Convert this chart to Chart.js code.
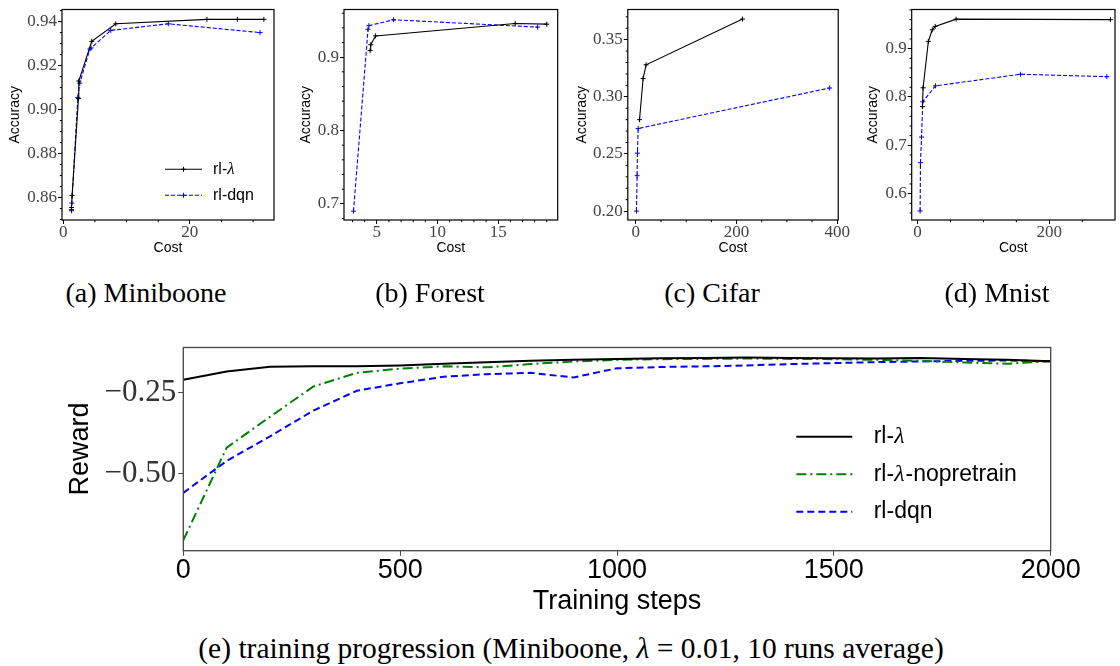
<!DOCTYPE html>
<html>
<head>
<meta charset="utf-8">
<script src="https://cdn.jsdelivr.net/npm/chart.js@4.4.0/dist/chart.umd.min.js"></script>
<style>
body { margin: 0; background: #fff; width: 1120px; height: 666px; position: relative; overflow: hidden; }
canvas { position: absolute; }
.cap { position: absolute; font-family: "Liberation Serif", serif; font-size: 28px; line-height: 28px;
       color: #000; white-space: nowrap; transform: translateX(-50%); }
</style>
</head>
<body>
<canvas id="cMiniboone" width="290" height="262" style="left:0px;top:0px"></canvas>
<canvas id="cForest" width="290" height="262" style="left:280px;top:0px"></canvas>
<canvas id="cCifar" width="290" height="262" style="left:560px;top:0px"></canvas>
<canvas id="cMnist" width="280" height="262" style="left:840px;top:0px"></canvas>
<canvas id="cTraining" width="1120" height="290" style="left:0px;top:330px"></canvas>

<div class="cap" style="left:146px;top:279px">(a) Miniboone</div>
<div class="cap" style="left:430px;top:279px">(b) Forest</div>
<div class="cap" style="left:712px;top:279px">(c) Cifar</div>
<div class="cap" style="left:997px;top:279px">(d) Mnist</div>
<div class="cap" style="left:571px;top:634px;font-size:29.5px">(e) training progression (Miniboone, <i>λ</i> = 0.01, 10 runs average)</div>

<script>
// ---- (a) Miniboone ----
const minibooneCostRl  = [1.3, 1.3, 1.4, 2.4, 2.45, 4.5, 8.3, 22.7, 27.5, 31.7];
const minibooneAccRl   = [0.8545, 0.8555, 0.861, 0.905, 0.913, 0.931, 0.939, 0.941, 0.941, 0.941];
const minibooneCostDqn = [1.3, 1.35, 2.3, 2.6, 4.2, 4.4, 7.5, 16.6, 31.1];
const minibooneAccDqn  = [0.854, 0.8575, 0.9055, 0.912, 0.9275, 0.928, 0.936, 0.939, 0.935];
const minibooneXTicks  = [0, 20];
const minibooneYTicks  = [0.86, 0.88, 0.90, 0.92, 0.94];

// ---- (b) Forest ----
const forestCostRl  = [4.45, 4.5, 4.9, 16.4, 19.0];
const forestAccRl   = [0.909, 0.917, 0.929, 0.946, 0.945];
const forestCostDqn = [3.08, 4.28, 4.35, 6.38, 18.25];
const forestAccDqn  = [0.69, 0.938, 0.943, 0.951, 0.941];
const forestXTicks  = [5, 10, 15];
const forestYTicks  = [0.7, 0.8, 0.9];

// ---- (c) Cifar ----
const cifarCostRl  = [7.3, 14.4, 20.3, 212];
const cifarAccRl   = [0.280, 0.316, 0.328, 0.368];
const cifarCostDqn = [1.2, 2.5, 3.2, 4.6, 385];
const cifarAccDqn  = [0.200, 0.231, 0.2507, 0.2723, 0.3077];
const cifarXTicks  = [0, 200, 400];
const cifarYTicks  = [0.20, 0.25, 0.30, 0.35];

// ---- (d) Mnist ----
const mnistCostRl  = [7.4, 8.4, 16.4, 22.3, 26.8, 58.5, 292.7];
const mnistAccRl   = [0.780, 0.819, 0.915, 0.939, 0.946, 0.961, 0.960];
const mnistCostDqn = [3.9, 4.4, 6.0, 7.9, 27.2, 156.3, 287.3];
const mnistAccDqn  = [0.564, 0.664, 0.717, 0.790, 0.823, 0.847, 0.842];
const mnistXTicks  = [0, 200];
const mnistYTicks  = [0.6, 0.7, 0.8, 0.9];

// ---- (e) training progression ----
const trainingSteps = [0, 100, 200, 300, 400, 500, 600, 700, 800, 900, 1000,
                       1100, 1200, 1300, 1400, 1500, 1600, 1700, 1800, 1900, 2000];
const rewardRl = [-0.211, -0.186, -0.171, -0.170, -0.170, -0.167, -0.162, -0.157, -0.153, -0.150, -0.147,
                  -0.145, -0.144, -0.143, -0.144, -0.145, -0.146, -0.144, -0.147, -0.150, -0.154];
const rewardNopretrain = [-0.705, -0.420, -0.325, -0.232, -0.190, -0.177, -0.170, -0.173, -0.163, -0.155, -0.150,
                          -0.148, -0.147, -0.146, -0.147, -0.148, -0.150, -0.153, -0.158, -0.162, -0.154];
const rewardDqn = [-0.559, -0.461, -0.385, -0.306, -0.245, -0.222, -0.202, -0.194, -0.190, -0.204, -0.176,
                   -0.172, -0.170, -0.167, -0.163, -0.160, -0.157, -0.155, -0.153, -0.152, -0.154];
const stepTicks = [0, 500, 1000, 1500, 2000];
const rewardTicks = [-0.50, -0.25];

const SANS = '"Liberation Sans", "DejaVu Sans", sans-serif';
const SERIF = '"Liberation Serif", "DejaVu Serif", serif';

function toPoints(xs, ys) {
    return xs.map((x, i) => ({ x: x, y: ys[i] }));
}

// draws "rl-λ..." with the lambda in italic serif
function drawLabel(ctx, text, x, y, size) {
    const parts = text.split('λ');
    let cx = x;
    parts.forEach((p, i) => {
        ctx.font = size + 'px ' + SANS;
        ctx.fillText(p, cx, y);
        cx += ctx.measureText(p).width;
        if (i < parts.length - 1) {
            ctx.font = 'italic ' + (size + 1) + 'px ' + SERIF;
            ctx.fillText('λ', cx, y);
            cx += ctx.measureText('λ').width + 1;
        }
    });
}

function drawMinor(ctx, scale, step, majors, horizontal, len, area) {
    if (!step) return;
    const k0 = Math.ceil(scale.min / step - 1e-9);
    const k1 = Math.floor(scale.max / step + 1e-9);
    ctx.beginPath();
    for (let k = k0; k <= k1; k++) {
        const v = k * step;
        if (majors.some(m => Math.abs(m - v) < step / 10)) continue;
        const p = scale.getPixelForValue(v);
        if (horizontal) {
            ctx.moveTo(p, area.bottom);
            ctx.lineTo(p, area.bottom + len);
        } else {
            ctx.moveTo(area.left - len, p);
            ctx.lineTo(area.left, p);
        }
    }
    ctx.stroke();
}

// frame (spines), minor ticks and an in-plot legend
const framePlugin = {
    id: 'frame',
    afterDraw(chart, args, opts) {
        const ctx = chart.ctx;
        const a = chart.chartArea;
        ctx.save();
        ctx.strokeStyle = opts.color;
        ctx.lineWidth = 1;
        drawMinor(ctx, chart.scales.x, opts.minorX, opts.majorX, true, 2.2, a);
        drawMinor(ctx, chart.scales.y, opts.minorY, opts.majorY, false, 2.2, a);
        ctx.lineWidth = opts.width;
        ctx.strokeRect(a.left, a.top, a.right - a.left, a.bottom - a.top);

        const lg = opts.legend;
        if (lg) {
            chart.data.datasets.forEach((ds, i) => {
                const y = lg.y + i * lg.rowH;
                ctx.strokeStyle = ds.borderColor;
                ctx.lineWidth = ds.borderWidth;
                ctx.setLineDash(ds.borderDash || []);
                ctx.beginPath();
                ctx.moveTo(lg.x, y);
                ctx.lineTo(lg.x + lg.lineLen, y);
                ctx.stroke();
                ctx.setLineDash([]);
                if (ds.pointRadius > 0) {
                    const mx = lg.x + lg.lineLen / 2, r = ds.pointRadius;
                    ctx.lineWidth = 1;
                    ctx.beginPath();
                    ctx.moveTo(mx - r, y); ctx.lineTo(mx + r, y);
                    ctx.moveTo(mx, y - r); ctx.lineTo(mx, y + r);
                    ctx.stroke();
                }
                ctx.fillStyle = '#000';
                ctx.textBaseline = 'middle';
                ctx.textAlign = 'left';
                drawLabel(ctx, ds.label, lg.x + lg.lineLen + lg.gap, y, lg.size);
            });
        }
        ctx.restore();
    }
};

function makeCostChart(id, c) {
    const ctx = document.getElementById(id).getContext('2d');
    return new Chart(ctx, {
        type: 'scatter',
        data: {
            datasets: [{
                label: 'rl-λ',
                data: toPoints(c.costRl, c.accRl),
                showLine: true,
                borderColor: '#000000',
                backgroundColor: '#000000',
                borderWidth: 1.1,
                pointStyle: 'cross',
                pointRadius: 2.5,
                pointBorderWidth: 1,
                pointBorderColor: '#000000'
            }, {
                label: 'rl-dqn',
                data: toPoints(c.costDqn, c.accDqn),
                showLine: true,
                borderColor: '#0000ff',
                backgroundColor: '#0000ff',
                borderWidth: 1.1,
                borderDash: [4, 2],
                pointStyle: 'cross',
                pointRadius: 2.5,
                pointBorderWidth: 1,
                pointBorderColor: '#0000ff'
            }]
        },
        options: {
            responsive: false,
            animation: false,
            events: [],
            layout: { padding: { left: 0, top: c.top, right: c.right, bottom: 0 } },
            plugins: {
                legend: { display: false },
                tooltip: { enabled: false },
                frame: {
                    color: '#000', width: 1.2,
                    minorX: c.minorX, minorY: c.minorY,
                    majorX: c.xTicks, majorY: c.yTicks,
                    legend: c.legend
                }
            },
            scales: {
                x: {
                    type: 'linear',
                    min: c.xMin, max: c.xMax,
                    afterBuildTicks: s => { s.ticks = c.xTicks.map(v => ({ value: v })); },
                    afterFit: s => { s.height = 42; },
                    border: { display: false },
                    grid: { drawOnChartArea: false, drawTicks: true, tickLength: 4, tickColor: '#000' },
                    ticks: {
                        autoSkip: false, maxRotation: 0, padding: 0, color: '#444',
                        font: { family: SERIF, size: 17, lineHeight: 1 },
                        callback: v => String(v)
                    },
                    title: {
                        display: true, text: 'Cost', color: '#000',
                        font: { family: SANS, size: 14 },
                        padding: { top: 0, bottom: 5 }
                    }
                },
                y: {
                    type: 'linear',
                    min: c.yMin, max: c.yMax,
                    afterBuildTicks: s => { s.ticks = c.yTicks.map(v => ({ value: v })); },
                    afterFit: s => { s.width = c.yWidth; },
                    border: { display: false },
                    grid: { drawOnChartArea: false, drawTicks: true, tickLength: 4, tickColor: '#000' },
                    ticks: {
                        autoSkip: false, padding: 1, color: '#444',
                        font: { family: SERIF, size: 17, lineHeight: 1 },
                        callback: v => v.toFixed(c.dec)
                    },
                    title: {
                        display: true, text: 'Accuracy', color: '#000',
                        font: { family: SANS, size: 14 },
                        padding: { top: c.titlePad, bottom: 0 }
                    }
                }
            }
        },
        plugins: [framePlugin]
    });
}

makeCostChart('cMiniboone', {
    costRl: minibooneCostRl, accRl: minibooneAccRl,
    costDqn: minibooneCostDqn, accDqn: minibooneAccDqn,
    xTicks: minibooneXTicks, yTicks: minibooneYTicks,
    xMin: -0.2, xMax: 33.3, yMin: 0.8498, yMax: 0.9455,
    minorX: 5, minorY: 0.005, dec: 2,
    top: 7, right: 16, yWidth: 62, titlePad: 6.6,
    legend: { x: 165, y: 169.3, rowH: 26, lineLen: 37, gap: 11, size: 16 }
});

makeCostChart('cForest', {
    costRl: forestCostRl, accRl: forestAccRl,
    costDqn: forestCostDqn, accDqn: forestAccDqn,
    xTicks: forestXTicks, yTicks: forestYTicks,
    xMin: 2.3, xMax: 19.9, yMin: 0.678, yMax: 0.965,
    minorX: 1, minorY: 0.02, dec: 1,
    top: 6.7, right: 12.3, yWidth: 64, titlePad: 17.5
});

makeCostChart('cCifar', {
    costRl: cifarCostRl, accRl: cifarAccRl,
    costDqn: cifarCostDqn, accDqn: cifarAccDqn,
    xTicks: cifarXTicks, yTicks: cifarYTicks,
    xMin: -16, xMax: 402, yMin: 0.1922, yMax: 0.3764,
    minorX: 50, minorY: 0.01, dec: 2,
    top: 6.7, right: 10, yWidth: 67.8, titlePad: 13.5
});

makeCostChart('cMnist', {
    costRl: mnistCostRl, accRl: mnistAccRl,
    costDqn: mnistCostDqn, accDqn: mnistAccDqn,
    xTicks: mnistXTicks, yTicks: mnistYTicks,
    xMin: -8.9, xMax: 299.7, yMin: 0.5454, yMax: 0.981,
    minorX: 50, minorY: 0.02, dec: 1,
    top: 7.3, right: 1, yWidth: 71.7, titlePad: 25.1
});

// ---- (e) training progression ----
new Chart(document.getElementById('cTraining').getContext('2d'), {
    type: 'scatter',
    data: {
        datasets: [{
            label: 'rl-λ',
            data: toPoints(trainingSteps, rewardRl),
            showLine: true,
            borderColor: '#000000',
            borderWidth: 2,
            pointRadius: 0
        }, {
            label: 'rl-λ-nopretrain',
            data: toPoints(trainingSteps, rewardNopretrain),
            showLine: true,
            borderColor: '#008000',
            borderWidth: 2,
            borderDash: [10, 4, 2, 4],
            pointRadius: 0
        }, {
            label: 'rl-dqn',
            data: toPoints(trainingSteps, rewardDqn),
            showLine: true,
            borderColor: '#0000ff',
            borderWidth: 2,
            borderDash: [7, 4],
            pointRadius: 0
        }]
    },
    options: {
        responsive: false,
        animation: false,
        events: [],
        layout: { padding: { left: 0, top: 16.7, right: 69.3, bottom: 0 } },
        plugins: {
            legend: { display: false },
            tooltip: { enabled: false },
            frame: {
                color: '#444', width: 1.3,
                legend: { x: 796.3, y: 106.7, rowH: 37.5, lineLen: 56, gap: 21.4, size: 23 }
            }
        },
        scales: {
            x: {
                type: 'linear',
                min: 0, max: 2000,
                afterBuildTicks: s => { s.ticks = stepTicks.map(v => ({ value: v })); },
                afterFit: s => { s.height = 69.3; },
                border: { display: false },
                grid: { drawOnChartArea: false, drawTicks: true, tickLength: 5, tickColor: '#444' },
                ticks: {
                    autoSkip: false, maxRotation: 0, padding: 1, color: '#000',
                    font: { family: SANS, size: 27, lineHeight: 1 },
                    callback: v => String(v)
                },
                title: {
                    display: true, text: 'Training steps', color: '#000',
                    font: { family: SANS, size: 27 },
                    padding: { top: 0, bottom: 1.8 }
                }
            },
            y: {
                type: 'linear',
                min: -0.737, max: -0.112,
                afterBuildTicks: s => { s.ticks = rewardTicks.map(v => ({ value: v })); },
                afterFit: s => { s.width = 183.3; },
                border: { display: false },
                grid: { drawOnChartArea: false, drawTicks: true, tickLength: 5, tickColor: '#444' },
                ticks: {
                    autoSkip: false, padding: 2, color: '#333',
                    font: { family: SERIF, size: 31, lineHeight: 1 },
                    callback: v => '\u2212' + Math.abs(v).toFixed(2)
                },
                title: {
                    display: true, text: 'Reward', color: '#000',
                    font: { family: SANS, size: 27 },
                    padding: { top: 64.3, bottom: 0 }
                }
            }
        }
    },
    plugins: [framePlugin]
});
</script>
</body>
</html>
